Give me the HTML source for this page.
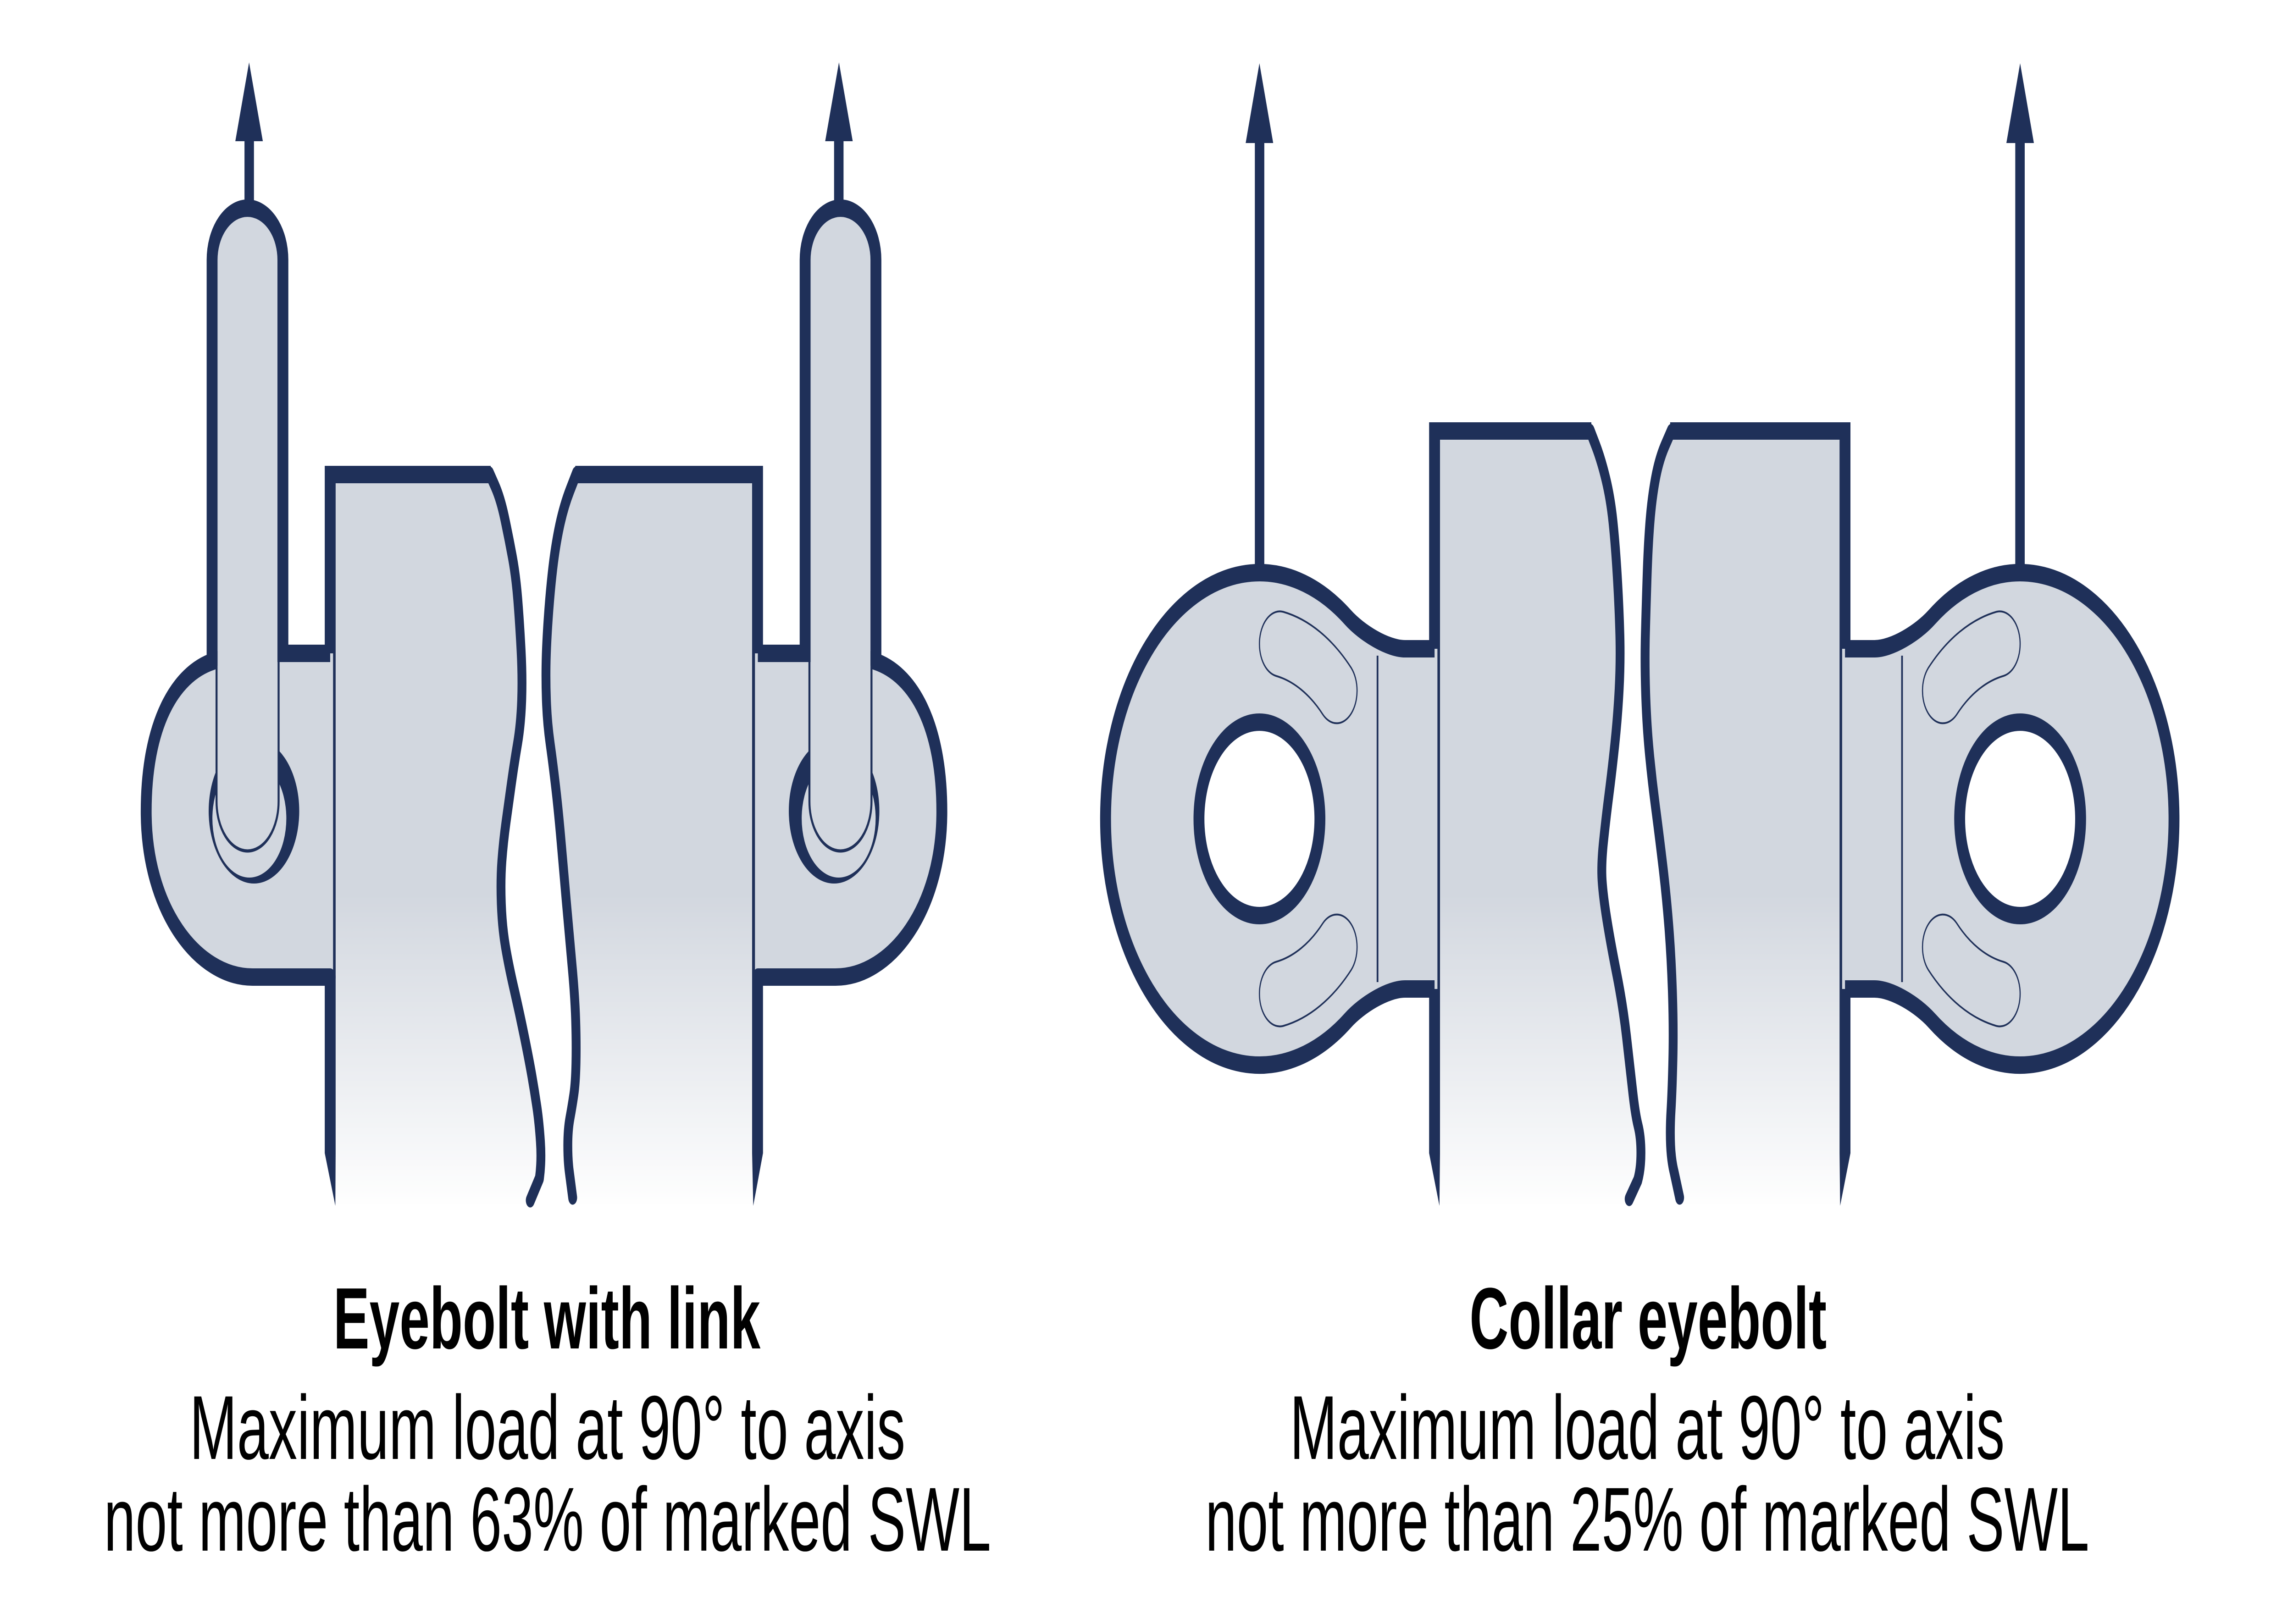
<!DOCTYPE html>
<html>
<head>
<meta charset="utf-8">
<style>
html,body{margin:0;padding:0;background:#ffffff;overflow:hidden;width:100%;height:100%;}
svg{display:block;position:fixed;left:0;top:0;width:100vw;height:100vh;}
text{font-family:"Liberation Sans",Arial,sans-serif;fill:#000;}
</style>
</head>
<body>
<svg viewBox="0 0 8000 3542" preserveAspectRatio="none" xmlns="http://www.w3.org/2000/svg">
<defs>
<linearGradient id="pg" gradientUnits="userSpaceOnUse" x1="0" y1="1950" x2="0" y2="2640">
<stop offset="0" stop-color="#d2d7df"/>
<stop offset="1" stop-color="#ffffff"/>
</linearGradient>
</defs>
<rect x="0" y="0" width="8000" height="3542" fill="#ffffff"/>

<!-- ================= LEFT DIAGRAM: Eyebolt with link ================= -->
<!-- left plate -->
<path d="M1152,1035 L1708,1033 L1727,1060 Q1746,1087 1760.5,1129.5 Q1775,1172 1787.5,1214.5 Q1800,1257 1806.5,1308 Q1813,1359 1818,1418.5 Q1823,1478 1820,1529 Q1817,1580 1805.5,1622.5 Q1794,1665 1784.5,1707.5 Q1775,1750 1765.5,1793 Q1756,1836 1751,1878 Q1746,1920 1749,1971 Q1752,2022 1763.5,2064.5 Q1775,2107 1794,2158.5 Q1813,2210 1829.5,2261 Q1846,2312 1855.5,2346 Q1865,2380 1873,2414 Q1881,2448 1885.5,2490.5 Q1890,2533 1880.5,2566.5 Q1871,2600 1840,2625 L1152,2625 Z" fill="url(#pg)"/>
<path d="M1152,2515 L1152,1035 L1712,1035" fill="none" stroke="#1f3059" stroke-width="38" stroke-linejoin="miter"/>
<polygon points="1133,2515 1171,2515 1170,2630" fill="#1f3059"/>
<path d="M1708,1033 L1727,1060 Q1746,1087 1760.5,1129.5 Q1775,1172 1787.5,1214.5 Q1800,1257 1806.5,1308 Q1813,1359 1818,1418.5 Q1823,1478 1820,1529 Q1817,1580 1805.5,1622.5 Q1794,1665 1784.5,1707.5 Q1775,1750 1765.5,1793 Q1756,1836 1751,1878 Q1746,1920 1749,1971 Q1752,2022 1763.5,2064.5 Q1775,2107 1794,2158.5 Q1813,2210 1829.5,2261 Q1846,2312 1855.5,2346 Q1865,2380 1873,2414 Q1881,2448 1885.5,2490.5 Q1890,2533 1882,2570 L1850,2618" fill="none" stroke="#1f3059" stroke-width="31" stroke-linecap="round" stroke-linejoin="round"/>

<!-- right plate -->
<path d="M2643,1035 L2011,1033 L1989,1068.5 Q1967,1104 1952.5,1146.5 Q1938,1189 1928.5,1240 Q1919,1291 1912.5,1350.5 Q1906,1410 1905,1452.5 Q1904,1495 1907,1537.5 Q1910,1580 1919.5,1622.5 Q1929,1665 1938.5,1716 Q1948,1767 1957.5,1835 Q1967,1903 1976.5,1971 Q1986,2039 1996,2107 Q2006,2175 2008.5,2226 Q2011,2277 2009.5,2319.5 Q2008,2362 2002,2387.5 Q1996,2413 1988.5,2438.5 Q1981,2464 1981,2498 Q1981,2532 1986.5,2557 Q1992,2582 2006,2625 L2643,2625 Z" fill="url(#pg)"/>
<path d="M2643,2515 L2643,1035 L2007,1035" fill="none" stroke="#1f3059" stroke-width="38" stroke-linejoin="miter"/>
<polygon points="2624,2515 2662,2515 2628,2630" fill="#1f3059"/>
<path d="M2011,1033 L1989,1068.5 Q1967,1104 1952.5,1146.5 Q1938,1189 1928.5,1240 Q1919,1291 1912.5,1350.5 Q1906,1410 1905,1452.5 Q1904,1495 1907,1537.5 Q1910,1580 1919.5,1622.5 Q1929,1665 1938.5,1716 Q1948,1767 1957.5,1835 Q1967,1903 1976.5,1971 Q1986,2039 1996,2107 Q2006,2175 2008.5,2226 Q2011,2277 2009.5,2319.5 Q2008,2362 2002,2387.5 Q1996,2413 1988.5,2438.5 Q1981,2464 1981,2498 Q1981,2532 1986.5,2557 L1998,2612" fill="none" stroke="#1f3059" stroke-width="31" stroke-linecap="round" stroke-linejoin="round"/>

<!-- left eye + link -->
<g id="eyeA">
<path d="M740,1443 C610,1470 510,1580 510,1770 C510,1985 690,2131 881,2131 L1162,2131 L1162,1425 L987,1425 Z" fill="#d2d7df"/>
<path d="M745,1442 C610,1470 510,1580 510,1770 C510,1985 690,2131 881,2131 L1152,2131" fill="none" stroke="#1f3059" stroke-width="38" stroke-linecap="round"/>
<circle cx="886" cy="1769" r="158" fill="#1f3059"/>
<circle cx="870" cy="1785" r="129" fill="#d2d7df"/>
<path d="M740,1445 L740,567 A123.5,113 0 0 1 987,567 L987,1430 L972,1430 L972,1748 A108.25,108 0 0 1 755.5,1748 L755.5,1445 Z" fill="#d2d7df"/>
<path d="M755.5,1420 L755.5,1748 A108.25,108 0 0 0 972,1748 L972,1420" fill="none" stroke="#1f3059" stroke-width="7"/>
<path d="M740,1452 L740,567 A123.5,113 0 0 1 987,567 L987,1425 L1152,1425" fill="none" stroke="#1f3059" stroke-width="38" stroke-linejoin="miter"/>
<rect x="853" y="300" width="33" height="160" fill="#1f3059"/>
<polygon points="869,136 821,308 917,308" fill="#1f3059"/>
</g>
<use href="#eyeA" transform="matrix(-1,0,0,1,3796,0)"/>

<!-- ================= RIGHT DIAGRAM: Collar eyebolt ================= -->
<!-- left plate -->
<path d="M5005,940 L5548,940 L5567,971 Q5586,1002 5602.5,1044.5 Q5619,1087 5627.5,1138 Q5636,1189 5642.5,1257 Q5649,1325 5651.5,1384.5 Q5654,1444 5649,1503.5 Q5644,1563 5634,1622.5 Q5624,1682 5613.5,1733 Q5603,1784 5594.5,1835 Q5586,1886 5589.5,1920 Q5593,1954 5606,2005 Q5619,2056 5640.5,2124 Q5662,2192 5674.5,2260 Q5687,2328 5696,2379 Q5705,2430 5715,2455 Q5725,2480 5725,2514.5 Q5725,2549 5712.5,2574.5 Q5700,2600 5669,2625 L5005,2625 Z" fill="url(#pg)"/>
<path d="M5005,2515 L5005,940 L5552,940" fill="none" stroke="#1f3059" stroke-width="38" stroke-linejoin="miter"/>
<polygon points="4986,2515 5024,2515 5022,2630" fill="#1f3059"/>
<path d="M5548,940 L5567,971 Q5586,1002 5602.5,1044.5 Q5619,1087 5627.5,1138 Q5636,1189 5642.5,1257 Q5649,1325 5651.5,1384.5 Q5654,1444 5649,1503.5 Q5644,1563 5634,1622.5 Q5624,1682 5613.5,1733 Q5603,1784 5594.5,1835 Q5586,1886 5589.5,1920 Q5593,1954 5606,2005 Q5619,2056 5640.5,2124 Q5662,2192 5674.5,2260 Q5687,2328 5696,2379 Q5705,2430 5715,2455 Q5725,2480 5725,2514.5 Q5725,2549 5714,2574 L5684,2615" fill="none" stroke="#1f3059" stroke-width="31" stroke-linecap="round" stroke-linejoin="round"/>

<!-- right plate -->
<path d="M6437,940 L5831,940 L5809.5,971 Q5788,1002 5775.5,1044.5 Q5763,1087 5756.5,1138 Q5750,1189 5746.5,1257 Q5743,1325 5740.5,1384.5 Q5738,1444 5741.5,1512 Q5745,1580 5754,1639.5 Q5763,1699 5775.5,1758.5 Q5788,1818 5801,1886 Q5814,1954 5822.5,2022 Q5831,2090 5835,2166.5 Q5839,2243 5836.5,2311 Q5834,2379 5830,2421.5 Q5826,2464 5828.5,2498 Q5831,2532 5841,2557 Q5851,2582 5872,2625 L6437,2625 Z" fill="url(#pg)"/>
<path d="M6437,2515 L6437,940 L5827,940" fill="none" stroke="#1f3059" stroke-width="38" stroke-linejoin="miter"/>
<polygon points="6418,2515 6456,2515 6420,2630" fill="#1f3059"/>
<path d="M5831,940 L5809.5,971 Q5788,1002 5775.5,1044.5 Q5763,1087 5756.5,1138 Q5750,1189 5746.5,1257 Q5743,1325 5740.5,1384.5 Q5738,1444 5741.5,1512 Q5745,1580 5754,1639.5 Q5763,1699 5775.5,1758.5 Q5788,1818 5801,1886 Q5814,1954 5822.5,2022 Q5831,2090 5835,2166.5 Q5839,2243 5836.5,2311 Q5834,2379 5830,2421.5 Q5826,2464 5828.5,2498 Q5831,2532 5841,2557 L5860,2612" fill="none" stroke="#1f3059" stroke-width="31" stroke-linecap="round" stroke-linejoin="round"/>

<!-- collar eye -->
<g id="eyeB">
<path d="M5015,1415 L4902,1415 C4842,1415 4752,1381 4702,1346 A537,537 0 1 0 4702,2226 C4752,2191 4842,2157 4902,2157 L5015,2157 Z" fill="#d2d7df"/>
<path d="M5005,1415 L4902,1415 C4842,1415 4752,1381 4702,1346 A537,537 0 1 0 4702,2226 C4752,2191 4842,2157 4902,2157 L5005,2157" fill="none" stroke="#1f3059" stroke-width="38"/>
<line x1="4806" y1="1430" x2="4806" y2="2142" stroke="#1f3059" stroke-width="6"/>
<circle cx="4394" cy="1786" r="211" fill="#ffffff" stroke="#1f3059" stroke-width="38"/>
<path d="M4476.9,1334.4 A458,458 0 0 1 4714.8,1457.2 A71,71 0 0 1 4615.7,1558.8 A316,316 0 0 0 4451.5,1474.1 A71,71 0 0 1 4476.9,1334.4 Z" fill="none" stroke="#1f3059" stroke-width="4"/>
<path d="M4476.9,1334.4 A458,458 0 0 1 4714.8,1457.2 A71,71 0 0 1 4615.7,1558.8 A316,316 0 0 0 4451.5,1474.1 A71,71 0 0 1 4476.9,1334.4 Z" fill="none" stroke="#1f3059" stroke-width="4" transform="matrix(1,0,0,-1,0,3572)"/>
<rect x="4378" y="300" width="33" height="950" fill="#1f3059"/>
<polygon points="4394,138 4346,312 4442,312" fill="#1f3059"/>
</g>
<use href="#eyeB" transform="matrix(-1,0,0,1,11442,0)"/>

<!-- ================= TEXT ================= -->
<text x="1908" y="2941" text-anchor="middle" font-weight="bold" font-size="190" textLength="1490" lengthAdjust="spacingAndGlyphs">Eyebolt with link</text>
<text x="1910" y="3182" text-anchor="middle" font-size="198" textLength="2497" lengthAdjust="spacingAndGlyphs">Maximum load at 90° to axis</text>
<text x="1910" y="3382" text-anchor="middle" font-size="198" textLength="3095" lengthAdjust="spacingAndGlyphs">not more than 63% of marked SWL</text>

<text x="5750" y="2941" text-anchor="middle" font-weight="bold" font-size="190" textLength="1246" lengthAdjust="spacingAndGlyphs">Collar eyebolt</text>
<text x="5747" y="3182" text-anchor="middle" font-size="198" textLength="2494" lengthAdjust="spacingAndGlyphs">Maximum load at 90° to axis</text>
<text x="5747" y="3382" text-anchor="middle" font-size="198" textLength="3084" lengthAdjust="spacingAndGlyphs">not more than 25% of marked SWL</text>
</svg>
</body>
</html>
